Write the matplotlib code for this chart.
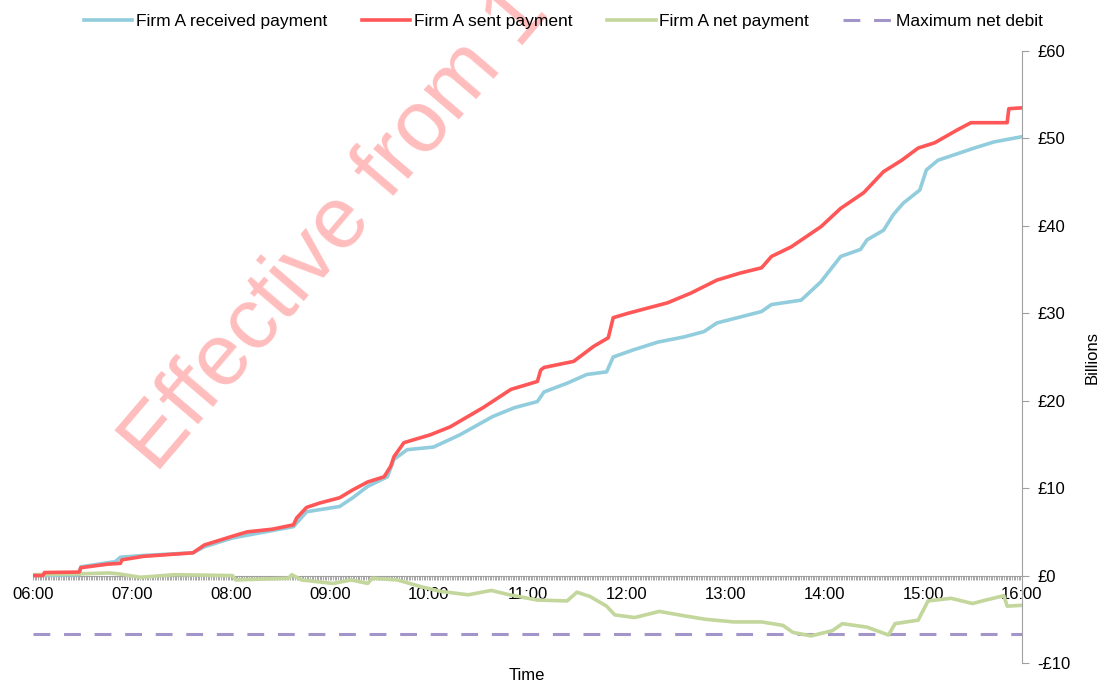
import matplotlib
matplotlib.use("Agg")
import matplotlib.pyplot as plt
from matplotlib.ticker import MultipleLocator, FixedLocator

plt.rcParams['font.family'] = ['Liberation Sans', 'DejaVu Sans']

# values in £ billions, times as HH:MM
sent_times = ["06:00", "06:06", "06:07", "06:28", "06:29", "06:45", "06:53", "06:54", "07:07", "07:37",
              "07:44", "08:01", "08:10", "08:25", "08:38", "08:40", "08:46", "08:54", "09:06", "09:14",
              "09:23", "09:33", "09:37", "09:39", "09:45", "10:01", "10:13", "10:33", "10:50", "11:06",
              "11:08", "11:10", "11:28", "11:40", "11:49", "11:52", "12:01", "12:25", "12:39", "12:55",
              "13:09", "13:22", "13:28", "13:40", "13:58", "14:10", "14:24", "14:36", "14:47", "14:57",
              "15:07", "15:21", "15:29", "15:51", "15:52", "16:00"]
sent_vals = [0.0, 0.0, 0.35, 0.4, 0.9, 1.3, 1.4, 1.8, 2.2, 2.6,
             3.5, 4.5, 5.0, 5.3, 5.8, 6.6, 7.8, 8.3, 8.9, 9.8,
             10.7, 11.3, 12.5, 13.6, 15.2, 16.1, 17.0, 19.2, 21.3, 22.2,
             23.5, 23.8, 24.5, 26.2, 27.2, 29.5, 30.0, 31.2, 32.3, 33.8,
             34.6, 35.2, 36.5, 37.6, 39.9, 42.0, 43.8, 46.2, 47.5, 48.9,
             49.5, 51.0, 51.8, 51.8, 53.4, 53.5]

recv_times = ["06:00", "06:28", "06:29", "06:50", "06:53", "07:07", "07:37", "07:44", "08:01", "08:38",
              "08:46", "09:06", "09:14", "09:23", "09:35", "09:39", "09:47", "10:03", "10:19", "10:39",
              "10:52", "11:06", "11:10", "11:24", "11:36", "11:48", "11:52", "12:04", "12:19", "12:35",
              "12:47", "12:55", "13:22", "13:28", "13:46", "13:58", "14:10", "14:22", "14:26", "14:36",
              "14:42", "14:48", "14:58", "15:02", "15:09", "15:31", "15:43", "16:00"]
recv_vals = [0.0, 0.1, 1.0, 1.6, 2.1, 2.3, 2.6, 3.3, 4.3, 5.6,
             7.3, 7.9, 8.9, 10.2, 11.3, 13.3, 14.4, 14.7, 16.1, 18.2,
             19.2, 19.9, 21.0, 22.0, 23.0, 23.3, 25.0, 25.8, 26.7, 27.3,
             27.9, 28.9, 30.2, 31.0, 31.5, 33.6, 36.5, 37.3, 38.4, 39.5,
             41.3, 42.6, 44.1, 46.4, 47.5, 48.9, 49.6, 50.2]

net_times = ["06:00", "06:29", "06:46", "06:52", "07:05", "07:26", "08:01", "08:03", "08:35", "08:37",
             "08:43", "09:02", "09:13", "09:23", "09:26", "09:41", "09:56", "10:07", "10:24", "10:38",
             "10:49", "11:06", "11:24", "11:30", "11:38", "11:48", "11:53", "12:05", "12:20", "12:35",
             "12:48", "13:05", "13:22", "13:35", "13:41", "13:52", "14:05", "14:11", "14:26", "14:39",
             "14:43", "14:57", "15:03", "15:17", "15:30", "15:36", "15:49", "15:51", "16:00"]
net_vals = [0.1, 0.2, 0.3, 0.2, -0.2, 0.1, 0.0, -0.5, -0.3, 0.1,
            -0.5, -0.9, -0.5, -0.9, -0.3, -0.5, -1.3, -1.8, -2.2, -1.7,
            -2.2, -2.8, -2.9, -1.9, -2.4, -3.5, -4.5, -4.8, -4.1, -4.6,
            -5.0, -5.3, -5.3, -5.7, -6.5, -6.9, -6.3, -5.5, -5.9, -6.8,
            -5.5, -5.1, -2.9, -2.6, -3.2, -2.9, -2.3, -3.5, -3.4]

max_net_debit = -6.7
hour_labels = ["06:00", "07:00", "08:00", "09:00", "10:00", "11:00",
               "12:00", "13:00", "14:00", "15:00", "16:00"]
y_ticks = [-10, 0, 10, 20, 30, 40, 50, 60]


def to_hours(t):
    h, m = t.split(":")
    return int(h) + int(m) / 60.0


fig = plt.figure(figsize=(11.01, 6.82), dpi=100)
ax = fig.add_axes([33 / 1101, 19 / 682, 989 / 1101, 612 / 682])

# watermark
fig.text(156 / 1101, 1 - 474 / 682, "Effective from 1", fontsize=63,
         color='#FFBDBD', rotation=49.5, rotation_mode='anchor',
         ha='left', va='baseline', zorder=0)

ax.plot([6, 16], [max_net_debit, max_net_debit], color='#A394C9', lw=2.2,
        dashes=(5.5, 4.5), label='Maximum net debit', zorder=2)
ax.plot([to_hours(t) for t in recv_times], recv_vals,
        color='#92CDDD', lw=2.6, label='Firm A received payment', zorder=3)
ax.plot([to_hours(t) for t in sent_times], sent_vals,
        color='#FF5757', lw=2.6, label='Firm A sent payment', zorder=4)
ax.plot([to_hours(t) for t in net_times], net_vals,
        color='#C3D69B', lw=2.6, label='Firm A net payment', zorder=3)

ax.set_xlim(6, 16)
ax.set_ylim(-10, 60)

ax.spines['left'].set_visible(False)
ax.spines['top'].set_visible(False)
ax.spines['bottom'].set_position(('data', 0))
ax.spines['bottom'].set_color('#A0A0A0')
ax.spines['right'].set_color('#A0A0A0')
ax.patch.set_alpha(0)

ax.xaxis.set_major_locator(FixedLocator([to_hours(t) for t in hour_labels]))
ax.set_xticklabels(hour_labels)
ax.xaxis.set_minor_locator(MultipleLocator(1 / 60))
ax.tick_params(axis='x', which='both', direction='out', length=3, width=0.6,
               color='#999999', labelsize=12, pad=5)

ax.yaxis.tick_right()
ax.set_yticks(y_ticks)
ax.set_yticklabels([("-£%d" % -v) if v < 0 else ("£%d" % v) for v in y_ticks])
ax.tick_params(axis='y', direction='out', length=5, width=0.8,
               color='#A0A0A0', labelsize=12, pad=6)

fig.text(527 / 1101, 1 - 676 / 682, "Time", fontsize=12, ha='center', va='center')
fig.text(1092 / 1101, 1 - 357 / 682, "Billions", fontsize=12, rotation=90,
         ha='center', va='center')

handles, labels = ax.get_legend_handles_labels()
order = [1, 2, 3, 0]
fig.legend([handles[i] for i in order], [labels[i] for i in order],
           loc='center', bbox_to_anchor=(563 / 1101, 1 - 21 / 682), ncol=4,
           frameon=False, fontsize=12.5, handlelength=2.8, handletextpad=0.2,
           columnspacing=2.0)

fig.savefig("out.png", dpi=100)
